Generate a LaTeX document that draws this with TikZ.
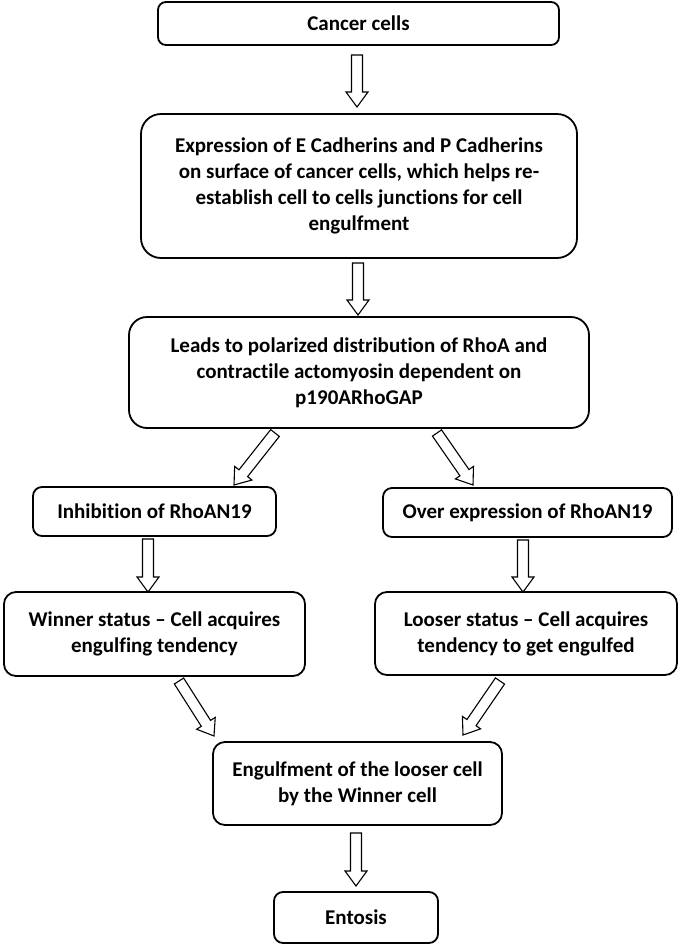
\documentclass[tikz,border=0pt]{standalone}
\usepackage{fontspec}
\setmainfont{Carlito}[Ligatures=NoCommon]
\usetikzlibrary{calc}
\tikzset{
  box/.style={draw, line width=1.8pt, align=center, inner sep=0pt,
    font=\fontsize{21}{25.9}\selectfont\bfseries},
  barrow/.style={draw, line width=1.1pt, fill=white, line join=miter}
}
\newcommand{\blockarrow}[2]{%
  \path (#1); \pgfgetlastxy{\bax}{\bay}%
  \path (#2); \pgfgetlastxy{\bbx}{\bby}%
  \pgfmathsetmacro\bang{atan2(\bby-\bay,\bbx-\bax)}%
  \pgfmathsetmacro\blen{veclen(\bbx-\bax,\bby-\bay)}%
  \begin{scope}[shift={(\bax,\bay)}, rotate=\bang]
    \draw[barrow] (0,-5.5) -- ({\blen-15},-5.5) -- ({\blen-15},-11) -- (\blen,0)
      -- ({\blen-15},11) -- ({\blen-15},5.5) -- (0,5.5) -- cycle;
  \end{scope}}
\begin{document}
\begin{tikzpicture}[x=1pt,y=1pt]
\useasboundingbox (0,0) rectangle (681,-946);
\node[box, minimum width=401pt, minimum height=43pt, rounded corners=8pt] (b1) at (358.5,-23.5) {Cancer cells};
\node[box, minimum width=436pt, minimum height=144pt, rounded corners=20pt] (b2) at (359,-186)
  {Expression of E Cadherins and P Cadherins\\on surface of cancer cells, which helps re-\\establish cell to cells junctions for cell\\engulfment};
\node[box, minimum width=460pt, minimum height=111pt, rounded corners=18pt] (b3) at (359,-372.5)
  {Leads to polarized distribution of RhoA and\\contractile actomyosin dependent on\\p190ARhoGAP};
\node[box, minimum width=243pt, minimum height=49pt, rounded corners=9pt] (b4) at (154.5,-511.5) {Inhibition of RhoAN19};
\node[box, minimum width=289pt, minimum height=49pt, rounded corners=9pt] (b5) at (527.5,-512.5) {Over expression of RhoAN19};
\node[box, minimum width=301pt, minimum height=84pt, rounded corners=12pt] (b6) at (154.5,-634)
  {Winner status -- Cell acquires\\engulfing tendency};
\node[box, minimum width=302pt, minimum height=83pt, rounded corners=12pt] (b7) at (526,-633.5)
  {Looser status -- Cell acquires\\tendency to get engulfed};
\node[box, minimum width=289pt, minimum height=83pt, rounded corners=12pt] (b8) at (357.5,-783.5)
  {Engulfment of the looser cell\\by the Winner cell};
\node[box, minimum width=164pt, minimum height=51pt, rounded corners=9pt] (b9) at (356,-917.5) {Entosis};
% arrow end points
\coordinate (a1s) at (357,-55);  \coordinate (a1e) at (357,-107);
\coordinate (a2s) at (358,-263); \coordinate (a2e) at (358,-315);
\coordinate (a3s) at (275,-433); \coordinate (a3e) at (234,-485);
\coordinate (a4s) at (437,-433); \coordinate (a4e) at (473,-485);
\coordinate (a5s) at (148,-539); \coordinate (a5e) at (148,-592);
\coordinate (a6s) at (523,-540); \coordinate (a6e) at (523,-592);
\coordinate (a7s) at (179,-681); \coordinate (a7e) at (214,-736);
\coordinate (a8s) at (500,-681); \coordinate (a8e) at (463,-735);
\coordinate (a9s) at (356,-833); \coordinate (a9e) at (356,-886);
\blockarrow{a1s}{a1e}
\blockarrow{a2s}{a2e}
\blockarrow{a3s}{a3e}
\blockarrow{a4s}{a4e}
\blockarrow{a5s}{a5e}
\blockarrow{a6s}{a6e}
\blockarrow{a7s}{a7e}
\blockarrow{a8s}{a8e}
\blockarrow{a9s}{a9e}
\end{tikzpicture}
\end{document}
